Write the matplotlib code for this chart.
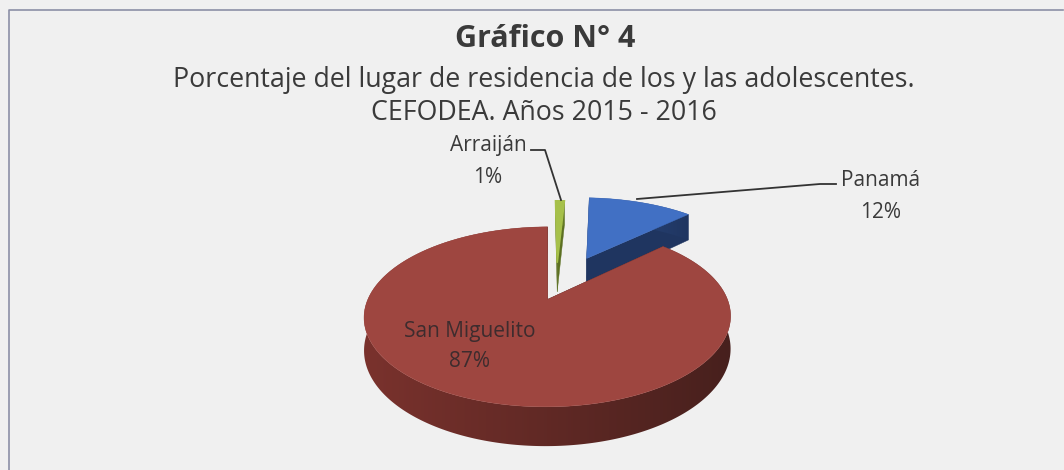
import numpy as np
import matplotlib
matplotlib.use("Agg")
import matplotlib.pyplot as plt
from matplotlib.patches import Polygon
from matplotlib.colors import to_rgb

plt.rcParams['font.family'] = ['Open Sans', 'DejaVu Sans']

# data
labels = ['Panamá', 'San Miguelito', 'Arraiján']
pcts = [12, 87, 1]
top_colors = ['#4170c4', '#9e4640', '#a6c04a']
side_light = ['#2e4c84', '#7a322d', '#7f9a2f']
side_dark = ['#1f3560', '#47201d', '#5c7022']
explode = [0.45, 0.12, 0.35]

title = 'Gráfico N° 4'
sub1 = 'Porcentaje del lugar de residencia de los y las adolescentes.'
sub2 = 'CEFODEA. Años 2015 - 2016'

fig = plt.figure(figsize=(10.64, 4.70), dpi=100)
fig.patch.set_facecolor('#f0f0f0')
ax = fig.add_axes([0, 0, 1, 1])
ax.axis('off')

# frame
ax.plot([9, 9, 1063], [470, 10, 10], color='#8c8fa6', lw=1.2)

# simple perspective for the 3D pie
X0, Y0 = 556, 290
RX, A, K, D = 176, 83, 0.19, 31
first_angle = np.deg2rad(87)


def proj(u, v, z=0.0):
    w = 1 + K * v
    return X0 + RX * u / w, Y0 - A * v / w + D * z / w


start = first_angle
slices = []
for p in pcts:
    a2 = start - 2 * np.pi * p / 100
    slices.append((start, a2))
    start = a2

order = [0, 2, 1]  # back to front
for n, i in enumerate(order):
    a1, a2 = slices[i]
    mid = (a1 + a2) / 2
    eu, ev = explode[i] * np.cos(mid), explode[i] * np.sin(mid)
    ang = np.linspace(a1, a2, 300)
    us, vs = eu + np.cos(ang), ev + np.sin(ang)
    zb = 10 * n
    # radial cut faces
    for a in (a1, a2):
        pu, pv = eu + np.cos(a), ev + np.sin(a)
        quad = [proj(eu, ev), proj(pu, pv), proj(pu, pv, 1), proj(eu, ev, 1)]
        ax.add_patch(Polygon(quad, closed=True, fc=side_dark[i], ec=side_dark[i],
                             lw=0.3, zorder=zb + 1))
    # outer wall with a left-to-right shade
    topv = [proj(u, v) for u, v in zip(us, vs)]
    botv = [proj(u, v, 1) for u, v in zip(us, vs)]
    wall = Polygon(topv + botv[::-1], closed=True, fc='none', ec='none')
    ax.add_patch(wall)
    xs = [p[0] for p in topv]
    ys = [p[1] for p in topv + botv]
    c1, c2 = np.array(to_rgb(side_light[i])), np.array(to_rgb(side_dark[i]))
    t = np.linspace(0, 1, 256)[:, None]
    grad = (c1 * (1 - t) + c2 * t)[None, :, :]
    im = ax.imshow(grad, extent=(min(xs) - 2, max(xs) + 2, max(ys) + 2, min(ys) - 2),
                   aspect='auto', interpolation='bilinear', zorder=zb + 2)
    im.set_clip_path(wall)
    # top face
    top = [proj(eu, ev)] + topv
    ax.add_patch(Polygon(top, closed=True, fc=top_colors[i], ec=top_colors[i],
                         lw=1.2 if pcts[i] < 5 else 0.3, zorder=zb + 3))

ax.set_xlim(0, 1064)
ax.set_ylim(470, 0)

txt = '#3a3a3a'
ax.text(545, 47, title, ha='center', va='baseline', fontsize=22, fontweight='bold', color=txt)
ax.text(544, 87, sub1, ha='center', va='baseline', fontsize=19.3, color=txt)
ax.text(544, 120, sub2, ha='center', va='baseline', fontsize=19.3, color=txt)

fs = 15
ax.text(488, 151, labels[2], ha='center', va='baseline', fontsize=fs, color=txt)
ax.text(488, 183, f'{pcts[2]}%', ha='center', va='baseline', fontsize=fs, color=txt)
ax.plot([531, 545, 561], [150, 150, 200], color='#333333', lw=1.3, zorder=50)

ax.text(881, 186, labels[0], ha='center', va='baseline', fontsize=fs, color=txt)
ax.text(881, 218, f'{pcts[0]}%', ha='center', va='baseline', fontsize=fs, color=txt)
ax.plot([836, 820, 637], [184, 184, 199], color='#333333', lw=1.3, zorder=50)

ax.text(470, 337, labels[1], ha='center', va='baseline', fontsize=fs, color='#3d2c2e', zorder=60)
ax.text(470, 367, f'{pcts[1]}%', ha='center', va='baseline', fontsize=fs, color='#3d2c2e', zorder=60)

fig.savefig('out.png', dpi=100, facecolor=fig.get_facecolor())
